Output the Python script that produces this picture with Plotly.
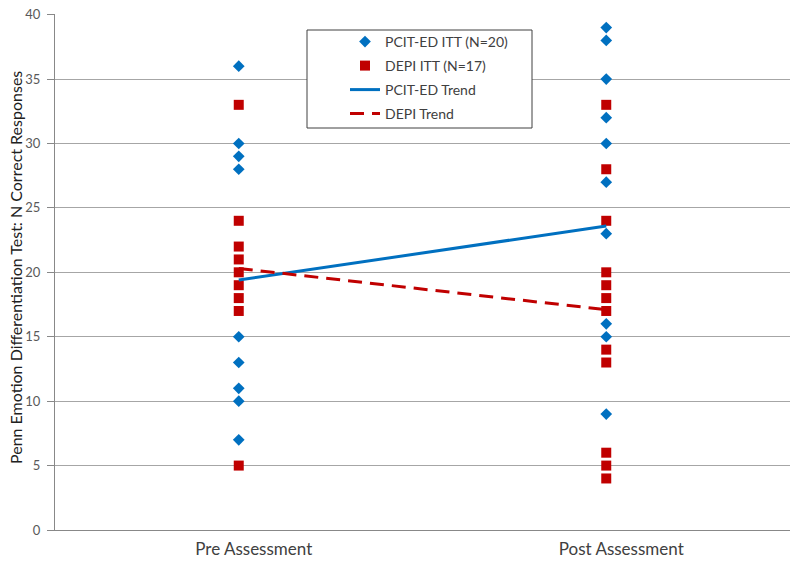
import plotly.graph_objects as go

categories = ["Pre Assessment", "Post Assessment"]

pcit_pre = [36, 30, 29, 28, 15, 13, 11, 10, 7]
pcit_post = [39, 38, 35, 32, 30, 27, 23, 16, 15, 9]
depi_pre = [33, 24, 22, 21, 20, 19, 18, 17, 5]
depi_post = [33, 28, 24, 20, 19, 18, 17, 14, 13, 6, 5, 4]

pcit_trend = [19.4, 23.6]
depi_trend = [20.3, 17.1]

y_title = "Penn Emotion Differentiation Test: N Correct Responses"

blue = "#0070C0"
red = "#C00000"

fig = go.Figure()
fig.add_trace(go.Scatter(
    x=[categories[0]] * len(pcit_pre) + [categories[1]] * len(pcit_post),
    y=pcit_pre + pcit_post, mode="markers", name="PCIT-ED ITT (N=20)",
    marker=dict(symbol="diamond", size=9, color=blue), legend="legend"))
fig.add_trace(go.Scatter(
    x=[categories[0]] * len(depi_pre) + [categories[1]] * len(depi_post),
    y=depi_pre + depi_post, mode="markers", name="DEPI ITT (N=17)",
    marker=dict(symbol="square", size=10, color=red), legend="legend2"))
fig.add_trace(go.Scatter(
    x=categories, y=pcit_trend, mode="lines", name="PCIT-ED Trend",
    line=dict(color=blue, width=3), legend="legend3"))
fig.add_trace(go.Scatter(
    x=categories, y=depi_trend, mode="lines", name="DEPI Trend",
    line=dict(color=red, width=3, dash="14px,8px"), legend="legend4"))

W, H = 800, 565
L, R, T, B = 55, 10, 14, 35
plot_top, plot_bottom = T, H - B
plot_left, plot_right = L, W - R

def py(pix):
    return (plot_bottom - pix) / (plot_bottom - plot_top)

def px(pix):
    return (pix - plot_left) / (plot_right - plot_left)

# legend frame drawn as a shape
fig.add_shape(type="rect", xref="paper", yref="paper",
              x0=px(307), x1=px(532), y0=py(128), y1=py(30),
              line=dict(color="#404040", width=1), fillcolor="white",
              layer="above")

fig.add_annotation(text=y_title, xref="paper", yref="paper",
                   x=px(15), y=py(268), textangle=-90, showarrow=False,
                   xanchor="center", yanchor="middle",
                   font=dict(size=16, color="#202020"))

leg_common = dict(x=px(345), xanchor="left", yanchor="middle", borderwidth=0,
                  bgcolor="rgba(0,0,0,0)", font=dict(size=14, color="#404040"),
                  itemwidth=30)

fig.update_layout(
    width=W, height=H,
    margin=dict(l=L, r=R, t=T, b=B, autoexpand=False),
    paper_bgcolor="white", plot_bgcolor="white",
    font=dict(family="Lato, Carlito, sans-serif", size=13, color="#404040"),
    legend=dict(y=py(42), **leg_common),
    legend2=dict(y=py(66), **leg_common),
    legend3=dict(y=py(90), **leg_common),
    legend4=dict(y=py(114), **leg_common),
    showlegend=True,
)
fig.update_xaxes(type="category", range=[-0.5, 1.5], showgrid=False,
                 showline=True, linecolor="#888888", linewidth=1,
                 ticks="", zeroline=False, automargin=False,
                 ticklabelstandoff=4, ticklabelshift=15,
                 tickfont=dict(size=17, color="#404040"))
fig.update_yaxes(range=[0, 40.05], tickvals=[0, 5, 10, 15, 20, 25, 30, 35, 40],
                 showgrid=True, gridcolor="#a6a6a6",
                 gridwidth=1, showline=True, linecolor="#888888", linewidth=1,
                 ticks="outside", ticklen=7, tickcolor="#888888",
                 zeroline=False, automargin=False, ticklabelstandoff=4,
                 tickfont=dict(size=13, color="#595959"))

fig.write_html("out.html", config={"displayModeBar": False},
               post_script="document.body.style.margin='0';")
